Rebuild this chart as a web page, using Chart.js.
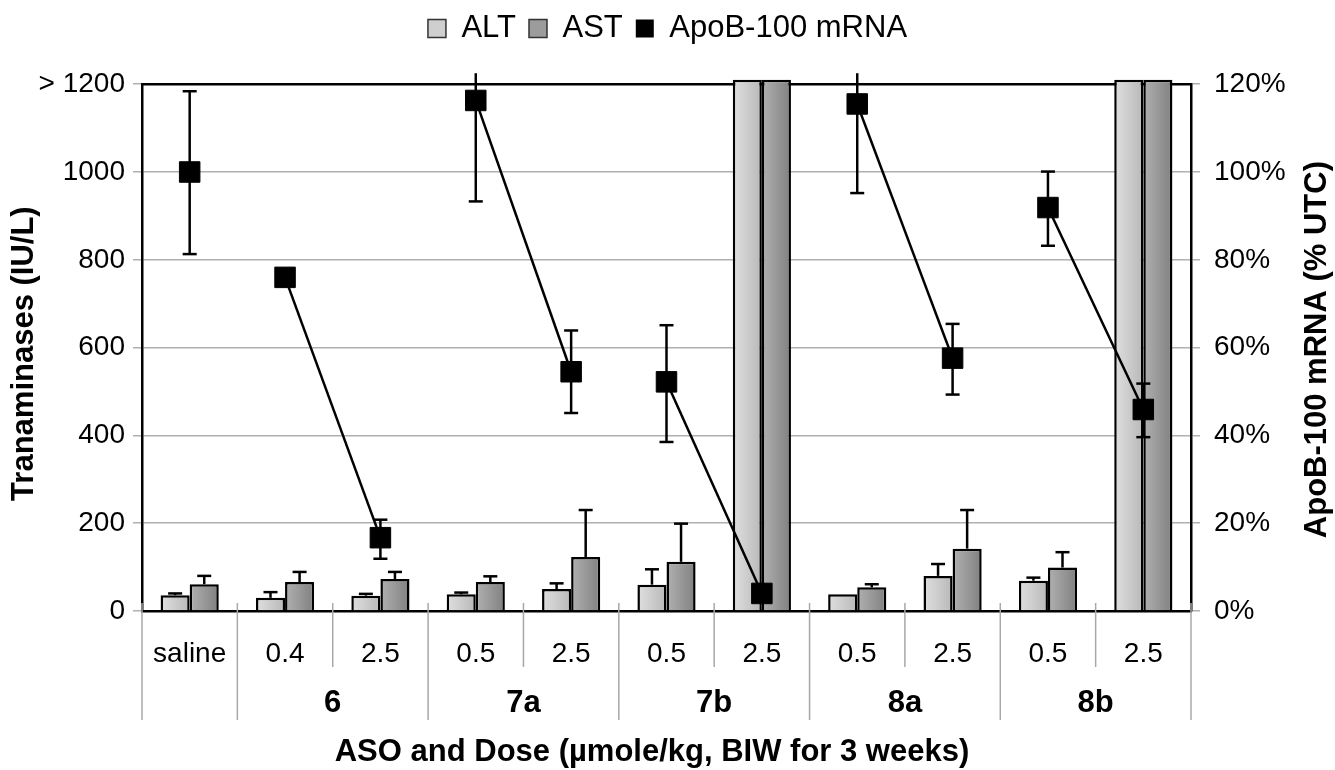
<!DOCTYPE html>
<html>
<head>
<meta charset="utf-8">
<script src="https://cdn.jsdelivr.net/npm/chart.js@4.4.0/dist/chart.umd.min.js"></script>
<style>
  html, body { margin: 0; padding: 0; background: #fff; }
</style>
</head>
<body>
<canvas id="aso-chart" width="1335" height="770"></canvas>
<script>
// categories
const doses = ['saline', '0.4', '2.5', '0.5', '2.5', '0.5', '2.5', '0.5', '2.5', '0.5', '2.5'];
const asoGroups = ['', '6', '6', '7a', '7a', '7b', '7b', '8a', '8a', '8b', '8b'];

// transaminases (IU/L), bars + upper end of error bar
const altValues = [36, 30, 35, 38, 50, 60, 1210, 38, 80, 69, 1210];
const altErrTop = [40, 43, 39, 42, 63, 95, null, null, 107, 76, null];
const astValues = [61, 66, 73, 66, 123, 112, 1210, 54, 142, 99, 1210];
const astErrTop = [80, 89, 89, 79, 230, 199, null, 61, 230, 134, null];

// ApoB-100 mRNA (% UTC) with error range
const mrnaValues = [100, 76, 16.7, 116.3, 54.5, 52.2, 4.0, 115.5, 57.6, 91.9, 45.9];
const mrnaLow = [81.3, null, 11.9, 93.3, 45.1, 38.5, null, 95.2, 49.3, 83.2, 39.6];
const mrnaHigh = [118.4, null, 20.8, 122.5, 63.9, 65.1, null, 122.5, 65.4, 100.1, 51.8];

// tick labels
const leftTicks = [0, 200, 400, 600, 800, 1000, 1200];
const rightTicks = [0, 20, 40, 60, 80, 100, 120];

const FONT = '"Liberation Sans", Arial, sans-serif';
const ALT_FILL = '#cfcfcf';
const AST_FILL = '#9c9c9c';

function cap(c, x, y, w) {
    c.beginPath();
    c.moveTo(x - w / 2, y);
    c.lineTo(x + w / 2, y);
    c.stroke();
}

// soft horizontal shading like the original bars
function barShade(context, stops) {
    const chart = context.chart;
    const x = chart.scales.x;
    if (!chart.chartArea || !x || context.dataIndex == null) return stops[1];
    const step = x.getPixelForValue(1) - x.getPixelForValue(0);
    const w = step * 0.61 / 2;
    const mid = x.getPixelForValue(context.dataIndex);
    const left = context.datasetIndex === 0 ? mid - w : mid;
    const g = chart.ctx.createLinearGradient(left, 0, left + w, 0);
    g.addColorStop(0, stops[0]);
    g.addColorStop(0.35, stops[1]);
    g.addColorStop(1, stops[2]);
    return g;
}

const errorBars = {
    id: 'errorBars',
    afterDatasetDraw(chart, args) {
        const meta = args.meta;
        const c = chart.ctx;
        const y = chart.scales[meta.yAxisID];
        c.save();
        c.strokeStyle = '#000';
        c.lineWidth = 2.5;
        if (meta.type === 'bar') {
            const tops = args.index === 0 ? altErrTop : astErrTop;
            meta.data.forEach((bar, i) => {
                if (tops[i] == null) return;
                const yTop = y.getPixelForValue(tops[i]);
                c.beginPath();
                c.moveTo(bar.x, bar.y);
                c.lineTo(bar.x, yTop);
                c.stroke();
                cap(c, bar.x, yTop, 14);
            });
        } else {
            meta.data.forEach((pt, i) => {
                if (mrnaLow[i] == null) return;
                const yLo = y.getPixelForValue(mrnaLow[i]);
                const yHi = y.getPixelForValue(mrnaHigh[i]);
                c.beginPath();
                c.moveTo(pt.x, yLo);
                c.lineTo(pt.x, yHi);
                c.stroke();
                cap(c, pt.x, yLo, 14);
                if (mrnaHigh[i] <= y.max) cap(c, pt.x, yHi, 14);
            });
        }
        c.restore();
    }
};

const plotFrame = {
    id: 'plotFrame',
    beforeDatasetsDraw(chart) {
        const c = chart.ctx, a = chart.chartArea;
        c.save();
        c.strokeStyle = '#000';
        c.lineWidth = 2.5;
        c.beginPath();
        c.moveTo(a.left, a.top);
        c.lineTo(a.right, a.top);
        c.stroke();
        c.restore();
    }
};

const xDecor = {
    id: 'xDecor',
    afterDraw(chart) {
        const c = chart.ctx, x = chart.scales.x, a = chart.chartArea;
        const step = x.getPixelForValue(1) - x.getPixelForValue(0);
        c.save();
        c.strokeStyle = '#a8a8a8';
        c.lineWidth = 1.5;
        for (let i = 0; i <= doses.length; i++) {
            const px = x.getPixelForValue(i) - step / 2;
            const longLine = i === 0 || i === doses.length || asoGroups[i] !== asoGroups[i - 1];
            c.beginPath();
            c.moveTo(px, a.bottom - 8);
            c.lineTo(px, a.bottom + (longLine ? 109 : 56));
            c.stroke();
        }
        // group names
        c.fillStyle = '#000';
        c.textAlign = 'center';
        c.textBaseline = 'middle';
        c.font = 'bold 31px ' + FONT;
        [...new Set(asoGroups)].filter(g => g).forEach(g => {
            const first = asoGroups.indexOf(g), last = asoGroups.lastIndexOf(g);
            const cx = (x.getPixelForValue(first) + x.getPixelForValue(last)) / 2;
            c.fillText(g, cx, a.bottom + 92);
        });
        // axis titles
        c.fillText('ASO and Dose (\u00b5mole/kg, BIW for 3 weeks)', 652, a.bottom + 141);
        const midY = (a.top + a.bottom) / 2;
        c.save();
        c.translate(24, midY + 6);
        c.rotate(-Math.PI / 2);
        c.fillText('Tranaminases (IU/L)', 0, 0);
        c.restore();
        c.translate(1317, midY + 2);
        c.rotate(-Math.PI / 2);
        c.fillText('ApoB-100 mRNA (% UTC)', 0, 0);
        c.restore();
    }
};

const ctx = document.getElementById('aso-chart');
const asoChart = new Chart(ctx, {
    type: 'bar',
    data: {
        labels: doses,
        datasets: [{
            label: 'ALT',
            data: altValues,
            backgroundColor: c => barShade(c, ['#dedede', '#d2d2d2', '#b8b8b8']),
            borderColor: '#000',
            borderWidth: 2.5,
            yAxisID: 'y',
            clip: false,
            order: 1,
        }, {
            label: 'AST',
            data: astValues,
            backgroundColor: c => barShade(c, ['#b0b0b0', '#a0a0a0', '#808080']),
            borderColor: '#000',
            borderWidth: 2.5,
            yAxisID: 'y',
            clip: false,
            order: 1,
        }, {
            type: 'line',
            label: 'ApoB-100 mRNA',
            data: mrnaValues,
            yAxisID: 'y1',
            borderColor: '#000',
            backgroundColor: '#000',
            borderWidth: 2.5,
            pointStyle: 'rect',
            pointRadius: 14.5,
            pointBackgroundColor: '#000',
            pointBorderColor: '#000',
            pointBorderWidth: 1,
            clip: false,
            order: 0,
            segment: {
                borderColor: s => (asoGroups[s.p0DataIndex] !== '' && asoGroups[s.p0DataIndex] === asoGroups[s.p1DataIndex]) ? '#000' : 'rgba(0,0,0,0)'
            }
        }]
    },
    options: {
        responsive: false,
        animation: false,
        layout: { padding: 0 },
        datasets: {
            bar: { categoryPercentage: 0.61, barPercentage: 1 }
        },
        plugins: {
            legend: {
                position: 'top',
                labels: {
                    boxWidth: 18,
                    boxHeight: 18,
                    padding: 13,
                    color: '#000',
                    font: { family: FONT, size: 31 },
                    sort: (a, b) => a.datasetIndex - b.datasetIndex,
                    generateLabels(chart) {
                        const items = Chart.defaults.plugins.legend.labels.generateLabels(chart);
                        const fills = [ALT_FILL, AST_FILL, '#000'];
                        items.forEach(it => {
                            it.fillStyle = fills[it.datasetIndex];
                            it.lineWidth = it.datasetIndex === 2 ? 0 : 1.5;
                            it.strokeStyle = '#333';
                        });
                        return items;
                    }
                }
            },
            title: {
                display: true,
                text: '',
                weight: 900,
                padding: { top: 13, bottom: 16 },
                font: { size: 1 }
            },
            tooltip: { enabled: false }
        },
        scales: {
            x: {
                grid: { display: false, drawTicks: false },
                border: { display: true, color: '#000', width: 2.5 },
                ticks: {
                    padding: 26,
                    color: '#000',
                    maxRotation: 0,
                    font: { family: FONT, size: 28 }
                },
                afterFit(scale) { scale.height = 159; }
            },
            y: {
                position: 'left',
                min: 0,
                max: 1200,
                afterBuildTicks(scale) { scale.ticks = leftTicks.map(v => ({ value: v })); },
                grid: { color: '#b0b0b0', lineWidth: 1.5, tickLength: 9 },
                border: { color: '#000', width: 2.5 },
                ticks: {
                    padding: 8,
                    color: '#000',
                    font: { family: FONT, size: 28 },
                    callback: v => v === 1200 ? '> 1200' : v
                },
                afterFit(scale) { scale.width = 142; }
            },
            y1: {
                position: 'right',
                min: 0,
                max: 120,
                afterBuildTicks(scale) { scale.ticks = rightTicks.map(v => ({ value: v })); },
                grid: { drawOnChartArea: false, color: '#b0b0b0', lineWidth: 1.5, tickLength: 9 },
                border: { color: '#000', width: 2.5 },
                ticks: {
                    padding: 14,
                    color: '#000',
                    font: { family: FONT, size: 28 },
                    callback: v => v + '%'
                },
                afterFit(scale) { scale.width = 144; }
            }
        }
    },
    plugins: [errorBars, plotFrame, xDecor]
});
</script>
</body>
</html>
